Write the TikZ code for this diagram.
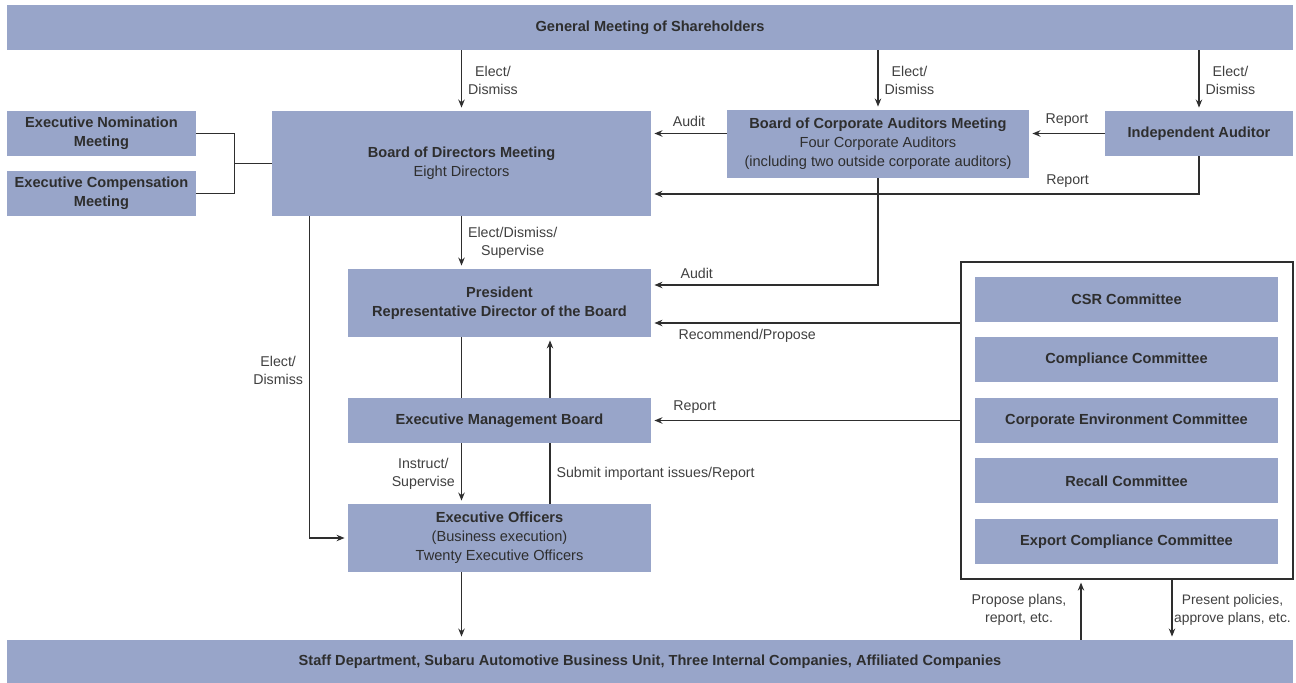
\documentclass[tikz,border=0pt]{standalone}
\usepackage{fontspec}
\setmainfont{Liberation Sans}
\usetikzlibrary{arrows.meta}

\definecolor{boxblue}{HTML}{98A5C9}
\definecolor{inkgray}{HTML}{2E2E2E}
\definecolor{labelgray}{HTML}{404040}

\tikzset{
  orgbox/.style={fill=boxblue, text=inkgray, inner sep=0pt, align=center,
    font=\fontsize{7.3}{9.5}\selectfont},
  boxsize/.style 2 args={minimum width=#1*0.5pt, minimum height=#2*0.5pt},
  lbl/.style={text=labelgray, font=\fontsize{7.1}{9}\selectfont, align=center, inner sep=3pt},
  arr/.style={draw=inkgray, line width=0.6pt, -{Stealth[length=4pt,width=3.2pt]}, shorten >=1.5pt},
  link/.style={draw=inkgray, line width=0.6pt}
}

\begin{document}
\begin{tikzpicture}[x=0.5pt, y=-0.5pt]
    \useasboundingbox (0,0) rectangle (1296,683);
    % top and bottom bars
    \node (gms) [orgbox, boxsize={1286}{45}] at (650,27.5) {\textbf{General Meeting of Shareholders}};
    \node (staff) [orgbox, boxsize={1286}{43}] at (650,661.5)
        {\textbf{Staff Department, Subaru Automotive Business Unit, Three Internal Companies, Affiliated Companies}};
    % board level
    \node (nom) [orgbox, boxsize={189}{45}] at (101.5,133.5) {\textbf{Executive Nomination}\\\textbf{Meeting}};
    \node (ecomp) [orgbox, boxsize={189}{45}] at (101.5,193.5) {\textbf{Executive Compensation}\\\textbf{Meeting}};
    \node (bod) [orgbox, boxsize={379}{105}] at (461.5,163.5) {\textbf{Board of Directors Meeting}\\Eight Directors};
    \node (bca) [orgbox, boxsize={302}{68}] at (878,144)
        {\textbf{Board of Corporate Auditors Meeting}\\Four Corporate Auditors\\(including two outside corporate auditors)};
    \node (ia) [orgbox, boxsize={188}{45}] at (1199,133.5) {\textbf{Independent Auditor}};
    % execution
    \node (pres) [orgbox, boxsize={303}{68}] at (499.5,303) {\textbf{President}\\\textbf{Representative Director of the Board}};
    \node (emb) [orgbox, boxsize={303}{45}] at (499.5,420.5) {\textbf{Executive Management Board}};
    \node (eo) [orgbox, boxsize={303}{68}] at (499.5,538)
        {\textbf{Executive Officers}\\(Business execution)\\Twenty Executive Officers};
    % committees
    \node (cframe) [draw=inkgray, line width=0.6pt, boxsize={332}{317}] at (1127,420.5) {};
    \foreach \name/\txt [count=\i] in {csr/CSR Committee, cmpl/Compliance Committee,
        env/Corporate Environment Committee, recall/Recall Committee, export/Export Compliance Committee}
        \node (\name) [orgbox, boxsize={303}{45}] at (1126.5,{299.5+60.5*(\i-1)}) {\textbf{\txt}};

    % elect / dismiss from the shareholders
    \draw [arr] (gms.south -| bod.north) -- node[lbl, right]{Elect/\\Dismiss} (bod.north);
    \draw [arr] (gms.south -| bca.north) -- node[lbl, right]{Elect/\\Dismiss} (bca.north);
    \draw [arr] (gms.south -| ia.north) -- node[lbl, right]{Elect/\\Dismiss} (ia.north);
    \draw [link] (nom.east) -- ++(38,0) |- (ecomp.east);
    \draw [link] (bod.west) -- ++(-38,0);
    % audit and report
    \draw [arr] (ia.west) -- node[lbl, above]{Report} (ia.west -| bca.east);
    \draw [arr] (ia.west -| bca.west) -- node[lbl, above]{Audit} (ia.west -| bod.east);
    \draw [arr] (ia.south) |- node[lbl, above, pos=0.62]{Report} ([yshift=-15.25pt]bod.east);
    \draw [arr] (bca.south) |- node[lbl, above, pos=0.9]{Audit} ([yshift=9pt]pres.east);
    % execution chain
    \draw [arr] (bod.south) -- node[lbl, right]{Elect/Dismiss/\\Supervise} (bod.south |- pres.north);
    \draw [arr] ([xshift=19pt]bod.south west) |- node[lbl, left, pos=0.24]{Elect/\\Dismiss} (eo.west);
    \coordinate (upx) at ([xshift=25.25pt]emb.north);
    \draw [link] (bod.south |- pres.south) -- (bod.south |- emb.north);
    \draw [arr] (upx) -- (upx |- pres.south);
    \draw [arr] (bod.south |- emb.south) -- node[lbl, left]{Instruct/\\Supervise} (bod.south |- eo.north);
    \draw [link] (upx |- eo.north) -- node[lbl, right]{Submit important issues/Report} (upx |- emb.south);
    \draw [arr] (bod.south |- eo.south) -- (bod.south |- staff.north);
    % committees
    \coordinate (recm) at ([yshift=-10pt]pres.east);
    \draw [arr] (recm -| cframe.west) -- node[lbl, below, pos=0.69]{Recommend/Propose} (recm);
    \draw [arr] (cframe.west) -- node[lbl, above, pos=0.86]{Report} (emb.east);
    \coordinate (propx) at ([xshift=-23pt]cframe.south);
    \coordinate (polx) at ([xshift=22.5pt]cframe.south);
    \draw [arr] (propx |- staff.north) -- node[lbl, left=4pt]{Propose plans,\\report, etc.} (propx);
    \draw [arr] (polx) -- node[lbl, right, inner sep=0.8pt, font=\fontsize{6.9}{9}\selectfont]{Present policies,\\approve plans, etc.} (polx |- staff.north);
\end{tikzpicture}
\end{document}
